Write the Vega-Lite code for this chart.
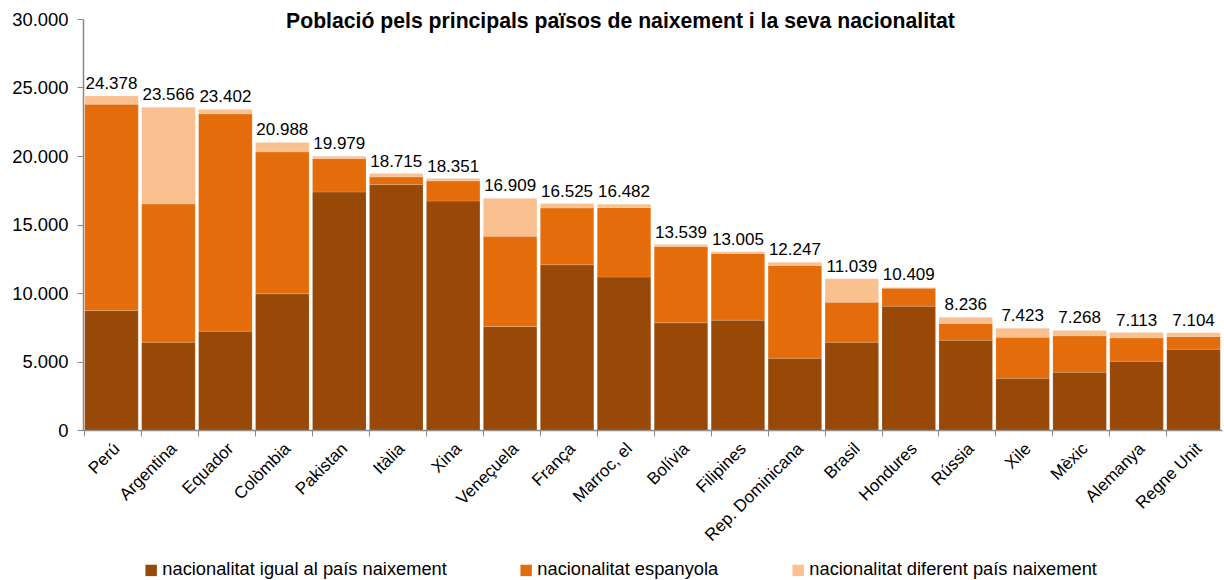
{
  "$schema": "https://vega.github.io/schema/vega-lite/v6.json",
  "width": 1139,
  "height": 411,
  "autosize": {"type": "none"},
  "padding": {"left": 83, "top": 19, "right": 2, "bottom": 150},
  "config": {
    "locale": {"number": {"decimal": ",", "thousands": ".", "grouping": [3], "currency": ["", " €"]}},
    "view": {"stroke": null},
    "font": "Liberation Sans"
  },
  "title": {
    "text": "Població pels principals països de naixement i la seva nacionalitat",
    "font": "Liberation Sans",
    "fontSize": 21.2,
    "fontWeight": "bold",
    "color": "#000000",
    "anchor": "middle",
    "dx": -32,
    "offset": -22
  },
  "data": {
    "values": [
      {"pais": "Perú", "tipus": "nacionalitat igual al país naixement", "valor": 8720},
      {"pais": "Perú", "tipus": "nacionalitat espanyola", "valor": 15065},
      {"pais": "Perú", "tipus": "nacionalitat diferent país naixement", "valor": 593},
      {"pais": "Argentina", "tipus": "nacionalitat igual al país naixement", "valor": 6405},
      {"pais": "Argentina", "tipus": "nacionalitat espanyola", "valor": 10090},
      {"pais": "Argentina", "tipus": "nacionalitat diferent país naixement", "valor": 7071},
      {"pais": "Equador", "tipus": "nacionalitat igual al país naixement", "valor": 7210},
      {"pais": "Equador", "tipus": "nacionalitat espanyola", "valor": 15866},
      {"pais": "Equador", "tipus": "nacionalitat diferent país naixement", "valor": 326},
      {"pais": "Colòmbia", "tipus": "nacionalitat igual al país naixement", "valor": 9944},
      {"pais": "Colòmbia", "tipus": "nacionalitat espanyola", "valor": 10355},
      {"pais": "Colòmbia", "tipus": "nacionalitat diferent país naixement", "valor": 689},
      {"pais": "Pakistan", "tipus": "nacionalitat igual al país naixement", "valor": 17373},
      {"pais": "Pakistan", "tipus": "nacionalitat espanyola", "valor": 2441},
      {"pais": "Pakistan", "tipus": "nacionalitat diferent país naixement", "valor": 165},
      {"pais": "Itàlia", "tipus": "nacionalitat igual al país naixement", "valor": 17913},
      {"pais": "Itàlia", "tipus": "nacionalitat espanyola", "valor": 557},
      {"pais": "Itàlia", "tipus": "nacionalitat diferent país naixement", "valor": 245},
      {"pais": "Xina", "tipus": "nacionalitat igual al país naixement", "valor": 16715},
      {"pais": "Xina", "tipus": "nacionalitat espanyola", "valor": 1462},
      {"pais": "Xina", "tipus": "nacionalitat diferent país naixement", "valor": 174},
      {"pais": "Veneçuela", "tipus": "nacionalitat igual al país naixement", "valor": 7553},
      {"pais": "Veneçuela", "tipus": "nacionalitat espanyola", "valor": 6581},
      {"pais": "Veneçuela", "tipus": "nacionalitat diferent país naixement", "valor": 2775},
      {"pais": "França", "tipus": "nacionalitat igual al país naixement", "valor": 12064},
      {"pais": "França", "tipus": "nacionalitat espanyola", "valor": 4139},
      {"pais": "França", "tipus": "nacionalitat diferent país naixement", "valor": 322},
      {"pais": "Marroc, el", "tipus": "nacionalitat igual al país naixement", "valor": 11160},
      {"pais": "Marroc, el", "tipus": "nacionalitat espanyola", "valor": 5071},
      {"pais": "Marroc, el", "tipus": "nacionalitat diferent país naixement", "valor": 251},
      {"pais": "Bolívia", "tipus": "nacionalitat igual al país naixement", "valor": 7823},
      {"pais": "Bolívia", "tipus": "nacionalitat espanyola", "valor": 5580},
      {"pais": "Bolívia", "tipus": "nacionalitat diferent país naixement", "valor": 136},
      {"pais": "Filipines", "tipus": "nacionalitat igual al país naixement", "valor": 8016},
      {"pais": "Filipines", "tipus": "nacionalitat espanyola", "valor": 4875},
      {"pais": "Filipines", "tipus": "nacionalitat diferent país naixement", "valor": 114},
      {"pais": "Rep. Dominicana", "tipus": "nacionalitat igual al país naixement", "valor": 5238},
      {"pais": "Rep. Dominicana", "tipus": "nacionalitat espanyola", "valor": 6775},
      {"pais": "Rep. Dominicana", "tipus": "nacionalitat diferent país naixement", "valor": 234},
      {"pais": "Brasil", "tipus": "nacionalitat igual al país naixement", "valor": 6405},
      {"pais": "Brasil", "tipus": "nacionalitat espanyola", "valor": 2926},
      {"pais": "Brasil", "tipus": "nacionalitat diferent país naixement", "valor": 1708},
      {"pais": "Hondures", "tipus": "nacionalitat igual al país naixement", "valor": 9040},
      {"pais": "Hondures", "tipus": "nacionalitat espanyola", "valor": 1315},
      {"pais": "Hondures", "tipus": "nacionalitat diferent país naixement", "valor": 54},
      {"pais": "Rússia", "tipus": "nacionalitat igual al país naixement", "valor": 6553},
      {"pais": "Rússia", "tipus": "nacionalitat espanyola", "valor": 1220},
      {"pais": "Rússia", "tipus": "nacionalitat diferent país naixement", "valor": 463},
      {"pais": "Xile", "tipus": "nacionalitat igual al país naixement", "valor": 3775},
      {"pais": "Xile", "tipus": "nacionalitat espanyola", "valor": 2998},
      {"pais": "Xile", "tipus": "nacionalitat diferent país naixement", "valor": 650},
      {"pais": "Mèxic", "tipus": "nacionalitat igual al país naixement", "valor": 4213},
      {"pais": "Mèxic", "tipus": "nacionalitat espanyola", "valor": 2660},
      {"pais": "Mèxic", "tipus": "nacionalitat diferent país naixement", "valor": 395},
      {"pais": "Alemanya", "tipus": "nacionalitat igual al país naixement", "valor": 5018},
      {"pais": "Alemanya", "tipus": "nacionalitat espanyola", "valor": 1707},
      {"pais": "Alemanya", "tipus": "nacionalitat diferent país naixement", "valor": 388},
      {"pais": "Regne Unit", "tipus": "nacionalitat igual al país naixement", "valor": 5895},
      {"pais": "Regne Unit", "tipus": "nacionalitat espanyola", "valor": 927},
      {"pais": "Regne Unit", "tipus": "nacionalitat diferent país naixement", "valor": 282}
    ]
  },
  "encoding": {
    "x": {
      "field": "pais",
      "type": "nominal",
      "sort": null,
      "scale": {"paddingInner": 0.06, "paddingOuter": 0.03},
      "axis": {
        "title": null,
        "labelAngle": -45,
        "labelAlign": "right",
        "labelBaseline": "top",
        "labelFontSize": 17,
        "labelColor": "#000000",
        "labelPadding": 4,
        "bandPosition": 0,
        "tickColor": "#888888",
        "tickSize": 6,
        "domainColor": "#888888",
        "domainWidth": 1.5,
        "labelLimit": 300
      }
    }
  },
  "layer": [
    {
      "mark": {"type": "bar", "stroke": "#ffffff", "strokeWidth": 0.3, "strokeOpacity": 0.5},
      "encoding": {
        "y": {
          "field": "valor",
          "type": "quantitative",
          "stack": "zero",
          "scale": {"domain": [0, 30000]},
          "axis": {
            "title": null,
            "values": [0, 5000, 10000, 15000, 20000, 25000, 30000],
            "format": ",d",
            "grid": false,
            "labelFontSize": 18.4,
            "labelColor": "#000000",
            "labelPadding": 9,
            "tickColor": "#888888",
            "tickSize": 6,
            "domainColor": "#888888",
            "domainWidth": 1.5
          }
        },
        "color": {
          "field": "tipus",
          "type": "nominal",
          "sort": ["nacionalitat igual al país naixement", "nacionalitat espanyola", "nacionalitat diferent país naixement"],
          "scale": {
            "domain": ["nacionalitat igual al país naixement", "nacionalitat espanyola", "nacionalitat diferent país naixement"],
            "range": ["#984807", "#E46C0A", "#FAC090"]
          },
          "legend": {
            "title": null,
            "orient": "none",
            "direction": "horizontal",
            "legendX": 59,
            "legendY": 542,
            "symbolType": "square",
            "symbolSize": 130,
            "symbolStrokeWidth": 0,
            "labelFontSize": 18.3,
            "labelColor": "#000000",
            "labelOffset": 2,
            "labelLimit": 400,
            "columnPadding": 70
          }
        }
      }
    },
    {
      "mark": {"type": "text", "baseline": "bottom", "dy": -3, "fontSize": 17, "color": "#000000"},
      "encoding": {
        "y": {"aggregate": "sum", "field": "valor", "type": "quantitative"},
        "text": {"aggregate": "sum", "field": "valor", "type": "quantitative", "format": ",d"}
      }
    }
  ]
}
